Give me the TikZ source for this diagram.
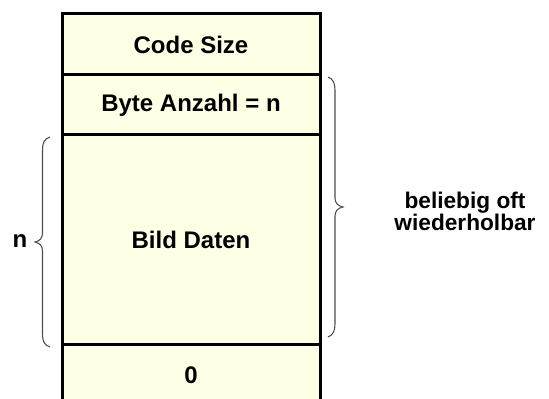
\documentclass[tikz,border=0pt]{standalone}
\usepackage{fontspec}
\setmainfont{Liberation Sans}
\begin{document}
\begin{tikzpicture}[x=0.75pt,y=-0.75pt,
  cell/.style={draw=black, line width=2.25pt, fill=cellfill, rectangle,
    minimum width=193.5pt, inner sep=0pt, outer sep=0pt,
    font=\bfseries\fontsize{18}{21}\selectfont},
  lbl/.style={inner sep=0pt, font=\bfseries\fontsize{18}{21}\selectfont},
  bracket/.style={draw=black!70, line width=0.8pt}]
\definecolor{cellfill}{RGB}{255,255,229}
\useasboundingbox (0,0) rectangle (549,399);
\clip (0,0) rectangle (549,399);

% record layout cells, top to bottom
\node[cell, minimum height=45.75pt] (code) at (191,44.5)  {Code Size};
\node[cell, minimum height=45pt]    (count) at (191,105)  {Byte Anzahl = n};
\node[cell, minimum height=156.75pt] (data) at (191,239.5) {Bild Daten};
\node[cell, minimum height=46.5pt]  (term) at (191,375)   {0};

% brace over the image data block
\draw[bracket] (50,137) .. controls (44,139) and (42.5,143) .. (42.5,150)
  -- (42.5,233) .. controls (42.5,238) and (40,241) .. (35,242)
  .. controls (40,243) and (42.5,246) .. (42.5,251)
  -- (42.5,334) .. controls (42.5,341) and (44,345) .. (50,347);
\node[lbl] (nlabel) at (20,241) {n};

% brace over the repeatable part
\draw[bracket] (328,77) .. controls (333,79) and (335,83) .. (335,90)
  -- (335,198) .. controls (335,203) and (338,206) .. (343,207)
  .. controls (338,208) and (335,211) .. (335,216)
  -- (335,324) .. controls (335,331) and (333,335) .. (328,337);
\node[lbl, align=center, font=\bfseries\fontsize{17}{16.5}\selectfont]
  (repeat) at (465,211) {beliebig oft\\wiederholbar};
\end{tikzpicture}
\end{document}
